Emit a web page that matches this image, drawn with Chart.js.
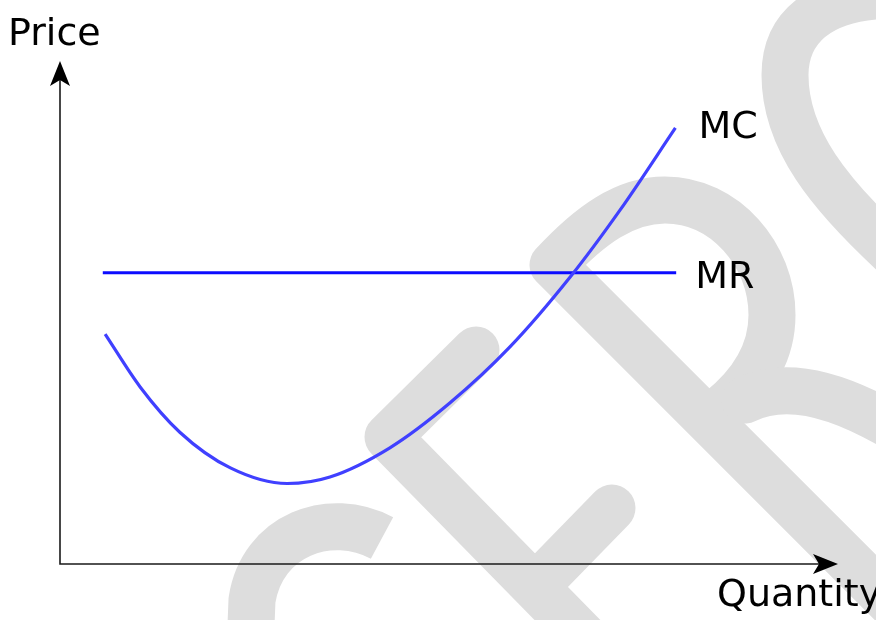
<!DOCTYPE html>
<html lang="en">
<head>
  <title>MC / MR</title>
  <style>
    html, body {
      margin: 0;
      padding: 0;
      background: #fff;
    }

    #chart-container {
      width: 876px;
      height: 620px;
    }

    canvas {
      display: block;
    }
  </style>
  <script src="https://cdn.jsdelivr.net/npm/chart.js"></script>
</head>
<body>
<div id="chart-container">
  <canvas id="costChart" width="876" height="620"></canvas>
</div>
<script>
// Marginal cost curve (U shape)
var mcQuantity = [5.8, 10.3, 15.4, 21.9, 29.2, 34.7, 42.4, 50.1, 57.8, 65.6, 72.0, 79.1];
var mcPrice    = [45.7, 35.2, 26.2, 19.1, 16.0, 17.3, 23.1, 32.0, 43.1, 57.1, 70.4, 86.7];

// Marginal revenue (flat)
var mrQuantity = [5.5, 79.2];
var mrPrice    = [57.9, 57.9];

var axisTitles = ['Price', 'Quantity'];
var seriesLabels = ['MC', 'MR'];

function toPoints(xs, ys) {
  var pts = [];
  for (var i = 0; i < xs.length; i++) {
    pts.push({ x: xs[i], y: ys[i] });
  }
  return pts;
}

var FONT = '38px "DejaVu Sans", sans-serif';

// grey "CER" watermark behind everything
var watermark = {
  id: 'watermark',
  beforeDraw: function(chart) {
    var ctx = chart.ctx;
    ctx.save();
    ctx.fillStyle = '#fff';
    ctx.fillRect(0, 0, chart.width, chart.height);
    ctx.strokeStyle = '#dddddd';
    ctx.lineWidth = 47;
    ctx.lineJoin = 'round';

    // C
    ctx.lineCap = 'butt';
    ctx.beginPath();
    ctx.moveTo(382, 538);
    ctx.bezierCurveTo(330, 510, 262, 535, 252, 600);
    ctx.lineTo(250, 650);
    ctx.stroke();

    ctx.lineCap = 'round';
    // E
    ctx.beginPath();
    ctx.moveTo(476, 350);
    ctx.lineTo(388, 437);
    ctx.lineTo(640, 694);
    ctx.moveTo(535, 587);
    ctx.lineTo(612, 508);
    ctx.stroke();

    // R
    ctx.beginPath();
    ctx.moveTo(910, 622);
    ctx.lineTo(553, 265);
    ctx.bezierCurveTo(590, 225, 625, 200, 665, 200);
    ctx.bezierCurveTo(725, 200, 772, 255, 772, 315);
    ctx.bezierCurveTo(772, 360, 745, 390, 720, 410);
    ctx.stroke();
    ctx.beginPath();
    ctx.moveTo(745, 400);
    ctx.bezierCurveTo(775, 385, 820, 385, 890, 425);
    ctx.stroke();

    // top right loop
    ctx.beginPath();
    ctx.moveTo(900, -5);
    ctx.bezierCurveTo(830, -5, 785, 20, 785, 75);
    ctx.bezierCurveTo(785, 140, 830, 195, 895, 255);
    ctx.stroke();
    ctx.restore();
  }
};

// axes with arrow heads
var arrowAxes = {
  id: 'arrowAxes',
  beforeDatasetsDraw: function(chart) {
    var ctx = chart.ctx;
    var a = chart.chartArea;
    ctx.save();
    ctx.strokeStyle = '#1a1a1a';
    ctx.fillStyle = '#000';
    ctx.lineWidth = 1.6;
    ctx.beginPath();
    ctx.moveTo(a.left, a.top + 15);
    ctx.lineTo(a.left, a.bottom);
    ctx.lineTo(a.right - 15, a.bottom);
    ctx.stroke();

    // y arrow
    ctx.beginPath();
    ctx.moveTo(a.left, a.top);
    ctx.lineTo(a.left + 10, a.top + 25);
    ctx.lineTo(a.left, a.top + 19);
    ctx.lineTo(a.left - 10, a.top + 25);
    ctx.closePath();
    ctx.fill();

    // x arrow
    ctx.beginPath();
    ctx.moveTo(a.right, a.bottom);
    ctx.lineTo(a.right - 25, a.bottom - 10);
    ctx.lineTo(a.right - 19, a.bottom);
    ctx.lineTo(a.right - 25, a.bottom + 10);
    ctx.closePath();
    ctx.fill();
    ctx.restore();
  }
};

// axis titles and curve names
var textLabels = {
  id: 'textLabels',
  afterDatasetsDraw: function(chart) {
    var ctx = chart.ctx;
    var xs = chart.scales.x;
    var ys = chart.scales.y;
    ctx.save();
    ctx.font = FONT;
    ctx.fillStyle = '#000';
    ctx.textBaseline = 'alphabetic';
    ctx.textAlign = 'left';
    ctx.fillText(axisTitles[0], 8, 45);
    ctx.fillText(axisTitles[1], 717, 606);

    var mcX = xs.getPixelForValue(mcQuantity[mcQuantity.length - 1]);
    var mcY = ys.getPixelForValue(mcPrice[mcPrice.length - 1]);
    ctx.fillText(seriesLabels[0], mcX + 23, mcY + 10);

    var mrX = xs.getPixelForValue(mrQuantity[mrQuantity.length - 1]);
    var mrY = ys.getPixelForValue(mrPrice[mrPrice.length - 1]);
    ctx.fillText(seriesLabels[1], mrX + 19, mrY + 15);
    ctx.restore();
  }
};

var ctx = document.getElementById('costChart').getContext('2d');
var costChart = new Chart(ctx, {
  type: 'line',
  data: {
    datasets: [{
      label: seriesLabels[0],
      data: toPoints(mcQuantity, mcPrice),
      borderColor: 'rgb(64, 64, 255)',
      borderWidth: 3.2,
      cubicInterpolationMode: 'monotone',
      pointRadius: 0,
      fill: false
    }, {
      label: seriesLabels[1],
      data: toPoints(mrQuantity, mrPrice),
      borderColor: 'rgb(12, 12, 255)',
      borderWidth: 3.2,
      pointRadius: 0,
      fill: false
    }]
  },
  options: {
    responsive: false,
    animation: false,
    layout: {
      padding: { left: 60, right: 38, top: 61, bottom: 56 }
    },
    plugins: {
      legend: { display: false },
      tooltip: { enabled: false }
    },
    scales: {
      x: { type: 'linear', min: 0, max: 100, display: false },
      y: { type: 'linear', min: 0, max: 100, display: false }
    }
  },
  plugins: [watermark, arrowAxes, textLabels]
});
</script>
</body>
</html>
